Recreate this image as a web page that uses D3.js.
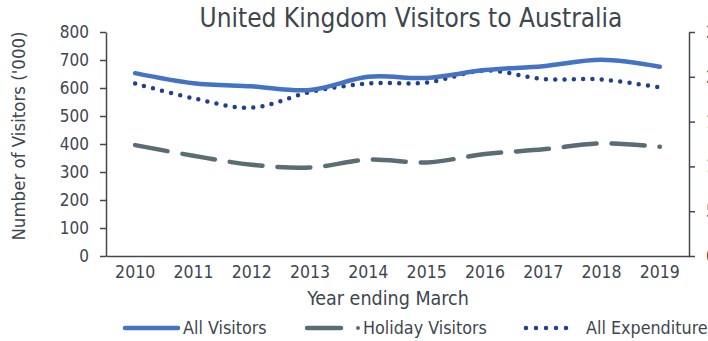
<!DOCTYPE html>
<html>
<head>
<meta charset="utf-8">
<script src="https://cdn.jsdelivr.net/npm/d3@7"></script>
<style>
  body { margin: 0; background: #fff; }
  svg text { font-family: "DejaVu Sans Condensed", "DejaVu Sans", sans-serif; font-stretch: condensed; fill: #3e464f; }
</style>
</head>
<body>
<svg id="chart" width="708" height="341"></svg>
<script>
// Year ending March
var years = ["2010", "2011", "2012", "2013", "2014", "2015", "2016", "2017", "2018", "2019"];
// Visitors ('000), left axis
var allVisitors = [653, 617, 606, 593, 640, 636, 664, 678, 701, 676];
var holidayVisitors = [396, 358, 326, 316, 344, 334, 364, 381, 402, 390];
// Expenditure ($m), right axis
var allExpenditure = [1925, 1760, 1655, 1830, 1925, 1935, 2070, 1975, 1970, 1880];
var leftTicks = [0, 100, 200, 300, 400, 500, 600, 700, 800];
var rightTicks = [0, 500, 1000, 1500, 2000, 2500];

var svg = d3.select("#chart");
var margin = { top: 32, right: 19, bottom: 85, left: 106 };
var width = 708 - margin.left - margin.right;
var height = 341 - margin.top - margin.bottom;
var g = svg.append("g").attr("transform", "translate(" + margin.left + "," + margin.top + ")");

var x = d3.scaleBand().domain(years).range([0, width]);
var y = d3.scaleLinear().domain([0, 800]).range([height, 0]);
var y2 = d3.scaleLinear().domain([0, 2500]).range([height, 0]);
var axisColor = "#404850";

// left axis
var yAxis = g.append("g")
  .call(d3.axisLeft(y).tickValues(leftTicks).tickSize(6).tickPadding(11).tickSizeOuter(0));
yAxis.selectAll("text").style("font-size", "17px");

// right axis (labels fall off the edge, as in the original)
var y2Axis = g.append("g").attr("transform", "translate(" + width + ",0)")
  .call(d3.axisRight(y2).tickValues(rightTicks).tickSize(6).tickPadding(11)
    .tickFormat(d3.format(",")).tickSizeOuter(0));
y2Axis.selectAll("text").style("font-size", "17px");

// bottom axis
var xAxis = g.append("g").attr("transform", "translate(0," + height + ")")
  .call(d3.axisBottom(x).tickSize(0).tickPadding(10));
xAxis.selectAll("text").style("font-size", "17.5px");

g.selectAll(".domain, .tick line").attr("stroke", axisColor).attr("stroke-width", 1.5);

function cx(d, i) { return x(years[i]) + x.bandwidth() / 2; }
var curve = d3.curveCatmullRom.alpha(0);

g.append("path").datum(holidayVisitors)
  .attr("fill", "none").attr("stroke", "#5a6d74").attr("stroke-width", 4.5)
  .attr("stroke-dasharray", "33 15").attr("stroke-linecap", "round")
  .attr("d", d3.line().x(cx).y(d => y(d)).curve(curve));

g.append("path").datum(allExpenditure)
  .attr("fill", "none").attr("stroke", "#203f8c").attr("stroke-width", 4.5)
  .attr("stroke-dasharray", "0 9.3").attr("stroke-linecap", "round")
  .attr("d", d3.line().x(cx).y(d => y2(d)).curve(curve));

g.append("path").datum(allVisitors)
  .attr("fill", "none").attr("stroke", "#4472c4").attr("stroke-width", 4.5)
  .attr("stroke-linecap", "round")
  .attr("d", d3.line().x(cx).y(d => y(d)).curve(curve));

// title
svg.append("text").attr("x", 411).attr("y", 27).attr("text-anchor", "middle")
  .style("font-size", "26px").text("United Kingdom Visitors to Australia");

// axis titles
svg.append("text").attr("x", 388).attr("y", 305).attr("text-anchor", "middle")
  .style("font-size", "19.5px").text("Year ending March");
svg.append("text").attr("transform", "translate(25,136) rotate(-90)").attr("text-anchor", "middle")
  .style("font-size", "18.5px").text("Number of Visitors ('000)");

// legend
var leg = svg.append("g").style("font-size", "17.8px");
leg.append("line").attr("x1", 125).attr("x2", 178).attr("y1", 328).attr("y2", 328)
  .attr("stroke", "#4472c4").attr("stroke-width", 4.5).attr("stroke-linecap", "round");
leg.append("text").attr("x", 183).attr("y", 334).text("All Visitors");
leg.append("line").attr("x1", 307).attr("x2", 341).attr("y1", 328).attr("y2", 328)
  .attr("stroke", "#5a6d74").attr("stroke-width", 4.5).attr("stroke-linecap", "round");
leg.append("circle").attr("cx", 358).attr("cy", 328).attr("r", 2).attr("fill", "#5a6d74");
leg.append("text").attr("x", 363).attr("y", 334).text("Holiday Visitors");
leg.append("line").attr("x1", 526).attr("x2", 576).attr("y1", 328).attr("y2", 328)
  .attr("stroke", "#203f8c").attr("stroke-width", 4.5).attr("stroke-linecap", "round")
  .attr("stroke-dasharray", "0 10");
leg.append("text").attr("x", 586).attr("y", 334).text("All Expenditure");
</script>
</body>
</html>
